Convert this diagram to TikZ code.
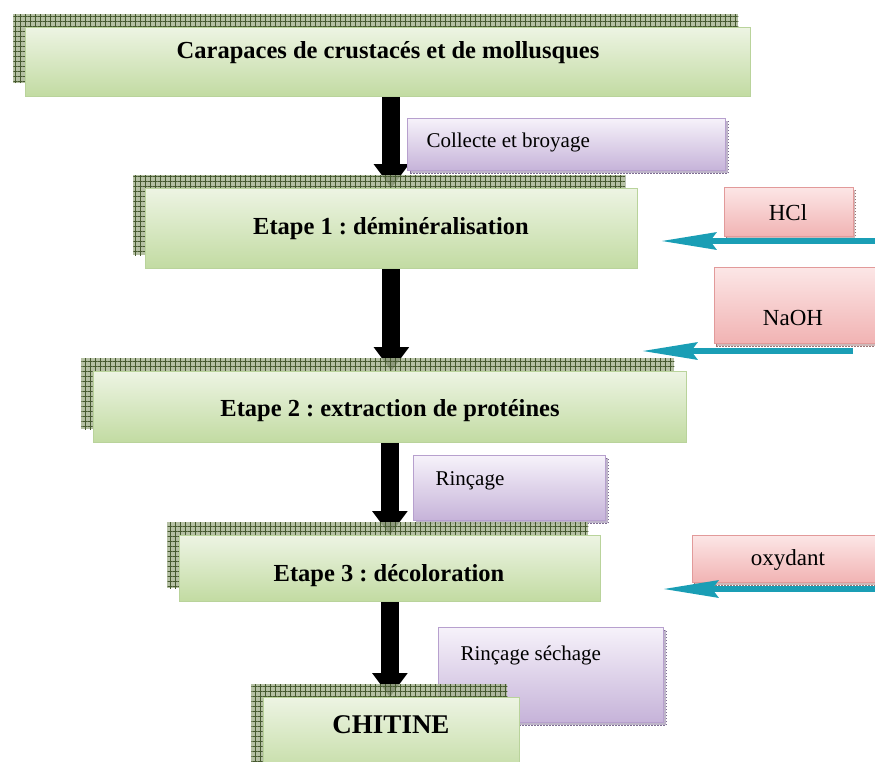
\documentclass[tikz,border=0pt]{standalone}
\usepackage{fontspec}
\setmainfont{Liberation Serif}
\usetikzlibrary{arrows.meta}
\usetikzlibrary{backgrounds}
\usetikzlibrary{shadows}
\usetikzlibrary{patterns.meta}
\frenchspacing

\definecolor{steptop}{HTML}{EDF4E3}
\definecolor{stepbot}{HTML}{C2DBA2}
\definecolor{stepline}{HTML}{B9D39B}
\definecolor{hatchbg}{HTML}{A8B594}
\definecolor{hatchline}{HTML}{46592F}
\definecolor{lilatop}{HTML}{F6F2FA}
\definecolor{lilabot}{HTML}{C6B3D9}
\definecolor{lilaline}{HTML}{B7A0CE}
\definecolor{lilashade}{HTML}{7E6C93}
\definecolor{rosetop}{HTML}{FCE6E6}
\definecolor{rosebot}{HTML}{F1B3B3}
\definecolor{roseline}{HTML}{E29A9A}
\definecolor{roseshade}{HTML}{9C7474}
\definecolor{tealarrow}{HTML}{1A9EB5}

\tikzset{
  stepbox/.style={draw=stepline, line width=0.8pt, top color=steptop, bottom color=stepbot,
    anchor=north west, inner sep=0pt,
    general shadow={shadow xshift=-12pt, shadow yshift=13pt, fill=hatchbg, fill opacity=0.85},
    general shadow={shadow xshift=-12pt, shadow yshift=13pt,
      pattern={Hatch[angle=0,distance=5pt,line width=0.6pt]}, pattern color=hatchline}},
  lilabox/.style={draw=lilaline, line width=0.8pt, top color=lilatop, bottom color=lilabot,
    anchor=north west, inner sep=0pt,
    general shadow={shadow xshift=3pt, shadow yshift=-3pt, fill=lilashade!50,
      draw=lilashade, dash pattern=on 1.5pt off 1.5pt, line width=1pt}},
  rosebox/.style={draw=roseline, line width=0.8pt, top color=rosetop, bottom color=rosebot,
    anchor=north west, inner sep=0pt,
    general shadow={shadow xshift=2pt, shadow yshift=-3pt, fill=roseshade!50,
      draw=roseshade, dash pattern=on 1.5pt off 1.5pt, line width=1pt}},
  steptext/.style={font=\bfseries\fontsize{24.5}{28}\selectfont},
  lilatext/.style={anchor=west, font=\fontsize{21}{25}\selectfont},
  rosetext/.style={font=\fontsize{23}{27}\selectfont},
  flow/.style={-{Triangle[length=24pt,width=34pt]}, line width=18pt, black},
  reagent/.style={-{Stealth[length=55pt,width=17pt,inset=6pt]}, line width=6pt, tealarrow}
}

\begin{document}
\begin{tikzpicture}[x=1pt, y=-1pt]
    \useasboundingbox (0,0) rectangle (875,761);

    % side notes (behind the steps)
    \node[lilabox, minimum width=318pt, minimum height=52pt] (collecte) at (407,118) {};
    \node[lilatext] (collecte text) at (423,142) {Collecte et broyage};
    \node[lilabox, minimum width=192pt, minimum height=65pt] (rincage) at (413,455) {};
    \node[lilatext] (rincage text) at (432,481) {Rinçage};
    \node[lilabox, minimum width=225pt, minimum height=95pt] (sechage) at (438,627) {};
    \node[lilatext] (sechage text) at (457,655) {Rinçage séchage};

    % the steps
    \node[stepbox, minimum width=725pt, minimum height=69pt] (carapaces) at (25,27) {};
    \node[steptext] (carapaces text) at (388,53) {Carapaces de crustacés et de mollusques};
    \node[stepbox, minimum width=492pt, minimum height=80pt] (etape1) at (145,188) {};
    \node[steptext] (etape1 text) at (391,229) {Etape 1 : déminéralisation};
    \node[stepbox, minimum width=593pt, minimum height=71pt] (etape2) at (93,371) {};
    \node[steptext] (etape2 text) at (390,411) {Etape 2 : extraction de protéines};
    \node[stepbox, minimum width=421pt, minimum height=66pt] (etape3) at (179,535) {};
    \node[steptext] (etape3 text) at (389,576) {Etape 3 : décoloration};
    \node[stepbox, minimum width=256pt, minimum height=80pt] (chitine) at (263,697) {};
    \node[steptext, font=\bfseries\fontsize{27}{31}\selectfont] (chitine text) at (391,725) {CHITINE};

    % reagents
    \node[rosebox, minimum width=129pt, minimum height=49pt] (hcl) at (724,187) {};
    \node[rosetext] (hcl text) at (788,213) {HCl};
    \node[rosebox, minimum width=162pt, minimum height=76pt] (naoh) at (714,267) {};
    \node[rosetext] (naoh text) at (793,318) {NaOH};
    \node[rosebox, minimum width=190pt, minimum height=47pt] (oxydant) at (692,535) {};
    \node[rosetext] (oxydant text) at (788,560) {oxydant};

    % reagent arrows
    \coordinate (hcl from) at (880,241);
    \coordinate (hcl to) at (661,241);
    \coordinate (naoh from) at (853,351);
    \coordinate (naoh to) at (642,351);
    \coordinate (oxydant from) at (880,589);
    \coordinate (oxydant to) at (663,589);
    \draw[reagent] (hcl from) -- (hcl to);
    \draw[reagent] (naoh from) -- (naoh to);
    \draw[reagent] (oxydant from) -- (oxydant to);

    % the flow
    \begin{scope}[on background layer]
        \draw[flow] (carapaces.south -| etape1.north) -- (etape1.north);
        \draw[flow] (etape1.south) -- (etape1.south |- etape2.north);
        \draw[flow] (etape2.south) -- (etape2.south |- etape3.north);
        \draw[flow] (etape3.south) -- (etape3.south |- chitine.north);
    \end{scope}
\end{tikzpicture}
\end{document}
